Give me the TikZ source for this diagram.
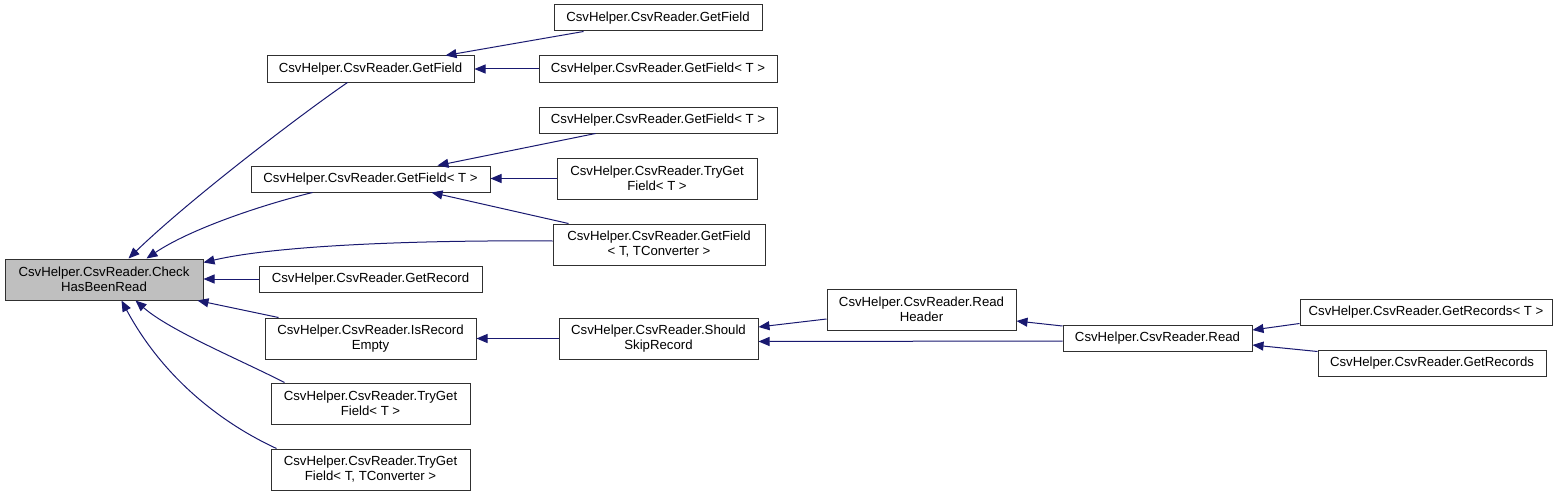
\documentclass[tikz,border=0pt]{standalone}
\usepackage{fontspec}
\setmainfont{Liberation Sans}
\usetikzlibrary{arrows.meta,calc}
\definecolor{edgeblue}{HTML}{191970}
\definecolor{boxgray}{HTML}{BFBFBF}
\definecolor{boxline}{HTML}{303030}
\begin{document}
\begin{tikzpicture}[x=1pt,y=-1pt,
  box/.style={draw=boxline,line width=1pt,fill=white,inner sep=0pt,align=center,
    font=\fontsize{13.2}{15}\selectfont},
  edge/.style={draw=edgeblue,line width=1pt,-{Triangle[length=11pt,width=9pt]}}]
\useasboundingbox (0,0) rectangle (1568,495);
% nodes
\node[box,fill=boxgray,minimum width=198,minimum height=41] (chbr) at (104,279.5) {CsvHelper.CsvReader.Check\\HasBeenRead};
\node[box,minimum width=207,minimum height=26] (gf1) at (370.5,69) {CsvHelper.CsvReader.GetField};
\node[box,minimum width=239,minimum height=26] (gft1) at (370.5,179) {CsvHelper.CsvReader.GetField< T >};
\node[box,minimum width=223,minimum height=26] (grec) at (370.5,279) {CsvHelper.CsvReader.GetRecord};
\node[box,minimum width=211,minimum height=41] (ire) at (370.5,338.5) {CsvHelper.CsvReader.IsRecord\\Empty};
\node[box,minimum width=199,minimum height=41] (tg1) at (370.5,403.5) {CsvHelper.CsvReader.TryGet\\Field< T >};
\node[box,minimum width=199,minimum height=41] (tgc1) at (370.5,469.5) {CsvHelper.CsvReader.TryGet\\Field< T, TConverter >};
\node[box,minimum width=208,minimum height=26] (gf2) at (658,18) {CsvHelper.CsvReader.GetField};
\node[box,minimum width=238,minimum height=26] (gft2a) at (658,69) {CsvHelper.CsvReader.GetField< T >};
\node[box,minimum width=238,minimum height=26] (gft2b) at (658,120) {CsvHelper.CsvReader.GetField< T >};
\node[box,minimum width=200,minimum height=41] (tg2) at (657,178.5) {CsvHelper.CsvReader.TryGet\\Field< T >};
\node[box,minimum width=212,minimum height=41] (gftc) at (659,244.5) {CsvHelper.CsvReader.GetField\\< T, TConverter >};
\node[box,minimum width=199,minimum height=41] (ssr) at (658.5,338.5) {CsvHelper.CsvReader.Should\\SkipRecord};
\node[box,minimum width=189,minimum height=41] (rh) at (921.5,309.5) {CsvHelper.CsvReader.Read\\Header};
\node[box,minimum width=189,minimum height=26] (read) at (1157.5,338) {CsvHelper.CsvReader.Read};
\node[box,minimum width=252,minimum height=26] (grt) at (1426,312) {CsvHelper.CsvReader.GetRecords< T >};
\node[box,minimum width=228,minimum height=26] (gr) at (1432,363) {CsvHelper.CsvReader.GetRecords};
% edges into CheckHasBeenRead
\draw[edge] ($(gf1.south west)+(81,0)$) .. controls +(-48,33) and +(61,-59) .. ($(chbr.north west)+(124,0)$);
\draw[edge] ($(gft1.south west)+(62,0)$) .. controls +(-53,13) and +(43,-29) .. ($(chbr.north west)+(142,0)$);
\draw[edge] ($(gftc.west)+(0,-3.5)$) .. controls +(-123,-1) and +(77,-18) .. ($(chbr.north east)+(0,4)$);
\draw[edge] (grec.west) -- (grec.west -| chbr.east);
\draw[edge] ($(ire.north west)+(14,0)$) -- ($(chbr.south east)+(-6,0)$);
\draw[edge] ($(tg1.north west)+(14,0)$) .. controls +(-45,-23) and +(34,30) .. ($(chbr.south west)+(131,0)$);
\draw[edge] ($(tgc1.north west)+(6,0)$) .. controls +(-52,-24) and +(43,80) .. ($(chbr.south west)+(117,0)$);
% edges into GetField
\draw[edge] ($(gf2.south west)+(30,0)$) -- ($(gf1.north west)+(179,0)$);
\draw[edge] (gft2a.west) -- (gft2a.west -| gf1.east);
% edges into GetField<T>
\draw[edge] ($(gft2b.south west)+(57,0)$) -- ($(gft1.north west)+(187,0)$);
\draw[edge] (tg2.west) -- (tg2.west -| gft1.east);
\draw[edge] ($(gftc.north west)+(16,0)$) -- ($(gft1.south west)+(181,0)$);
% IsRecordEmpty chain
\draw[edge] (ssr.west) -- (ire.east);
\draw[edge] ($(rh.west)+(0,9.5)$) -- ($(ssr.east)+(0,-11.5)$);
\draw[edge] ($(read.west)+(0,3)$) -- ($(ssr.east)+(0,3)$);
\draw[edge] ($(read.north west)+(0,1.5)$) -- ($(rh.east)+(0,11.5)$);
\draw[edge] ($(grt.south west)+(0,-2)$) -- ($(read.east)+(0,-8)$);
\draw[edge] ($(gr.north west)+(0,2)$) -- ($(read.east)+(0,7)$);
\end{tikzpicture}
\end{document}
